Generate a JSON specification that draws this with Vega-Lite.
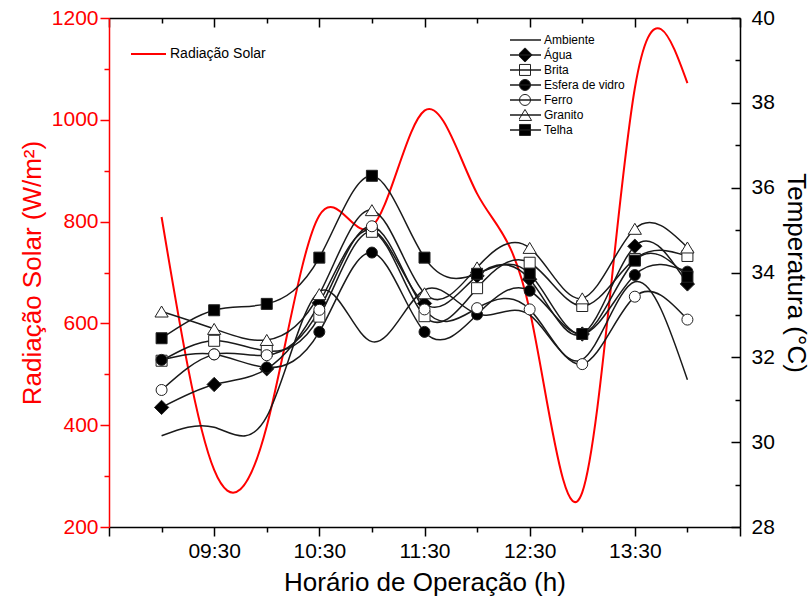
{
  "$schema": "https://vega.github.io/schema/vega-lite/v6.json",
  "width": 631,
  "height": 509,
  "autosize": {"type": "none"},
  "padding": {"left": 109, "top": 18, "right": 71, "bottom": 78},
  "background": "white",
  "config": {
    "font": "Liberation Sans",
    "view": {"stroke": null},
    "axis": {"grid": false, "labelFontSize": 21, "titleFontSize": 26, "titleFontWeight": "normal", "tickWidth": 1.5, "domainWidth": 1.5, "labelColor": "#000", "titleColor": "#000", "tickColor": "#000", "domainColor": "#000", "labelFont": "Liberation Sans", "titleFont": "Liberation Sans"},
    "legend": {"padding": 0, "labelFont": "Liberation Sans", "labelColor": "#000"}
  },
  "datasets": {
    "rad": [
      {"t": 9, "rad": 809}, {"t": 9.5, "rad": 312}, {"t": 10, "rad": 398}, {"t": 10.5, "rad": 812},
      {"t": 11, "rad": 790}, {"t": 11.5, "rad": 1018}, {"t": 12, "rad": 855}, {"t": 12.5, "rad": 626},
      {"t": 13, "rad": 268}, {"t": 13.5, "rad": 1062}, {"t": 14, "rad": 1072}
    ],
    "temp": [
      {"s": "Ambiente", "t": 9, "v": 30.15}, {"s": "Ambiente", "t": 9.5, "v": 30.35}, {"s": "Ambiente", "t": 10, "v": 30.6}, {"s": "Ambiente", "t": 10.5, "v": 33.55}, {"s": "Ambiente", "t": 11, "v": 32.37}, {"s": "Ambiente", "t": 11.5, "v": 33.59}, {"s": "Ambiente", "t": 12, "v": 33.02}, {"s": "Ambiente", "t": 12.5, "v": 33.0}, {"s": "Ambiente", "t": 13, "v": 31.95}, {"s": "Ambiente", "t": 13.5, "v": 33.78}, {"s": "Ambiente", "t": 14, "v": 31.47},
      {"s": "Água", "t": 9, "v": 30.82}, {"s": "Água", "t": 9.5, "v": 31.36}, {"s": "Água", "t": 10, "v": 31.73}, {"s": "Água", "t": 10.5, "v": 33.28}, {"s": "Água", "t": 11, "v": 35.0}, {"s": "Água", "t": 11.5, "v": 33.27}, {"s": "Água", "t": 12, "v": 33.92}, {"s": "Água", "t": 12.5, "v": 33.84}, {"s": "Água", "t": 13, "v": 32.55}, {"s": "Água", "t": 13.5, "v": 34.62}, {"s": "Água", "t": 14, "v": 33.73},
      {"s": "Brita", "t": 9, "v": 31.92}, {"s": "Brita", "t": 9.5, "v": 32.39}, {"s": "Brita", "t": 10, "v": 32.15}, {"s": "Brita", "t": 10.5, "v": 32.96}, {"s": "Brita", "t": 11, "v": 34.96}, {"s": "Brita", "t": 11.5, "v": 32.97}, {"s": "Brita", "t": 12, "v": 33.63}, {"s": "Brita", "t": 12.5, "v": 34.23}, {"s": "Brita", "t": 13, "v": 33.21}, {"s": "Brita", "t": 13.5, "v": 34.32}, {"s": "Brita", "t": 14, "v": 34.39},
      {"s": "Esfera de vidro", "t": 9, "v": 31.94}, {"s": "Esfera de vidro", "t": 9.5, "v": 32.07}, {"s": "Esfera de vidro", "t": 10, "v": 31.76}, {"s": "Esfera de vidro", "t": 10.5, "v": 32.6}, {"s": "Esfera de vidro", "t": 11, "v": 34.47}, {"s": "Esfera de vidro", "t": 11.5, "v": 32.6}, {"s": "Esfera de vidro", "t": 12, "v": 33.01}, {"s": "Esfera de vidro", "t": 12.5, "v": 33.57}, {"s": "Esfera de vidro", "t": 13, "v": 32.55}, {"s": "Esfera de vidro", "t": 13.5, "v": 33.94}, {"s": "Esfera de vidro", "t": 14, "v": 34.02},
      {"s": "Ferro", "t": 9, "v": 31.23}, {"s": "Ferro", "t": 9.5, "v": 32.07}, {"s": "Ferro", "t": 10, "v": 32.05}, {"s": "Ferro", "t": 10.5, "v": 33.12}, {"s": "Ferro", "t": 11, "v": 35.09}, {"s": "Ferro", "t": 11.5, "v": 33.13}, {"s": "Ferro", "t": 12, "v": 33.16}, {"s": "Ferro", "t": 12.5, "v": 33.13}, {"s": "Ferro", "t": 13, "v": 31.84}, {"s": "Ferro", "t": 13.5, "v": 33.43}, {"s": "Ferro", "t": 14, "v": 32.89},
      {"s": "Granito", "t": 9, "v": 33.08}, {"s": "Granito", "t": 9.5, "v": 32.67}, {"s": "Granito", "t": 10, "v": 32.41}, {"s": "Granito", "t": 10.5, "v": 33.49}, {"s": "Granito", "t": 11, "v": 35.47}, {"s": "Granito", "t": 11.5, "v": 33.51}, {"s": "Granito", "t": 12, "v": 34.12}, {"s": "Granito", "t": 12.5, "v": 34.58}, {"s": "Granito", "t": 13, "v": 33.39}, {"s": "Granito", "t": 13.5, "v": 35.03}, {"s": "Granito", "t": 14, "v": 34.59},
      {"s": "Telha", "t": 9, "v": 32.45}, {"s": "Telha", "t": 9.5, "v": 33.11}, {"s": "Telha", "t": 10, "v": 33.26}, {"s": "Telha", "t": 10.5, "v": 34.35}, {"s": "Telha", "t": 11, "v": 36.28}, {"s": "Telha", "t": 11.5, "v": 34.35}, {"s": "Telha", "t": 12, "v": 33.97}, {"s": "Telha", "t": 12.5, "v": 33.97}, {"s": "Telha", "t": 13, "v": 32.55}, {"s": "Telha", "t": 13.5, "v": 34.28}, {"s": "Telha", "t": 14, "v": 33.9}
    ]
  },
  "resolve": {
    "scale": {"y": "independent"},
    "axis": {"x": "independent", "y": "independent"},
    "legend": {"stroke": "independent"}
  },
  "layer": [
    {
      "data": {"name": "rad"},
      "mark": {"type": "line", "interpolate": "natural", "strokeWidth": 2},
      "encoding": {
        "x": {"field": "t", "type": "quantitative", "scale": {"domain": [8.5, 14.5], "nice": false, "zero": false},
          "axis": {"orient": "bottom", "values": [8.5, 9.5, 10.5, 11.5, 12.5, 13.5, 14.5], "tickSize": 9, "labelPadding": 4, "labelFlush": false,
            "labelExpr": "datum.value == 8.5 || datum.value == 14.5 ? '' : (datum.value < 10 ? '0' : '') + floor(datum.value) + ':30'",
            "title": "Horário de Operação (h)", "titlePadding": 8}},
        "y": {"field": "rad", "type": "quantitative", "scale": {"domain": [200, 1200], "nice": false, "zero": false},
          "axis": {"orient": "left", "values": [200, 400, 600, 800, 1000, 1200], "format": "d", "tickSize": 9, "labelPadding": 2,
            "tickColor": "#ff0000", "domainColor": "#ff0000", "labelColor": "#ff0000", "titleColor": "#ff0000",
            "title": "Radiação Solar (W/m²)", "titlePadding": 6}},
        "color": {"datum": "Radiação Solar", "type": "nominal", "scale": {"range": ["#ff0000"]},
          "legend": {"orient": "none", "legendX": 21, "legendY": 28, "direction": "vertical", "title": null, "symbolType": "stroke", "symbolSize": 1225, "symbolStrokeWidth": 2, "labelFontSize": 14, "clipHeight": 16, "labelOffset": 3}}
      }
    },
    {
      "data": {"name": "rad"},
      "mark": {"type": "line", "interpolate": "natural", "opacity": 0},
      "encoding": {
        "x": {"field": "t", "type": "quantitative", "scale": {"domain": [8.5, 14.5], "nice": false, "zero": false},
          "axis": {"orient": "top", "values": [8.5, 9.5, 10.5, 11.5, 12.5, 13.5, 14.5], "tickSize": -9, "labels": false, "title": null}},
        "y": {"field": "rad", "type": "quantitative", "scale": {"domain": [200, 1200], "nice": false, "zero": false},
          "axis": {"orient": "left", "values": [300, 500, 700, 900, 1100], "tickSize": 5, "labels": false, "domain": false, "tickColor": "#ff0000", "title": null}}
      }
    },
    {
      "data": {"name": "temp"},
      "mark": {"type": "line", "interpolate": "natural", "strokeWidth": 1.5},
      "encoding": {
        "x": {"field": "t", "type": "quantitative", "scale": {"domain": [8.5, 14.5], "nice": false, "zero": false},
          "axis": {"orient": "bottom", "values": [9, 10, 11, 12, 13, 14], "tickSize": 5, "labels": false, "domain": false, "title": null}},
        "y": {"field": "v", "type": "quantitative", "scale": {"domain": [28, 40], "nice": false, "zero": false},
          "axis": {"orient": "right", "values": [28, 30, 32, 34, 36, 38, 40], "tickSize": -9, "labelPadding": 20, "title": "Temperatura (°C)", "titlePadding": 8}},
        "stroke": {"field": "s", "type": "nominal",
          "scale": {"domain": ["Ambiente", "Água", "Brita", "Esfera de vidro", "Ferro", "Granito", "Telha"], "range": ["#1a1a1a", "#1a1a1a", "#1a1a1a", "#1a1a1a", "#1a1a1a", "#1a1a1a", "#1a1a1a"]},
          "legend": {"orient": "none", "legendX": 400, "legendY": 14.6, "direction": "vertical", "title": null, "symbolType": "stroke", "symbolSize": 961, "symbolStrokeWidth": 1.5, "clipHeight": 14.7, "rowPadding": 0, "labelFontSize": 12, "labelOffset": 2}}
      }
    },
    {
      "data": {"name": "temp"},
      "transform": [{"filter": "datum.s !== 'Ambiente'"}],
      "mark": {"type": "point", "filled": true, "size": 121, "stroke": "#222", "strokeWidth": 1, "opacity": 1},
      "encoding": {
        "x": {"field": "t", "type": "quantitative", "scale": {"domain": [8.5, 14.5], "nice": false, "zero": false},
          "axis": {"orient": "top", "values": [9, 10, 11, 12, 13, 14], "tickSize": -5, "labels": false, "domain": false, "title": null}},
        "y": {"field": "v", "type": "quantitative", "scale": {"domain": [28, 40], "nice": false, "zero": false},
          "axis": {"orient": "right", "values": [29, 31, 33, 35, 37, 39], "tickSize": -5, "labels": false, "domain": false, "title": null}},
        "shape": {"field": "s", "type": "nominal",
          "scale": {"domain": ["Ambiente", "Água", "Brita", "Esfera de vidro", "Ferro", "Granito", "Telha"],
            "range": ["M0,0", "M-1.3,0L0,-1.3L1.3,0L0,1.3Z", "M-1,-1H1V1H-1Z", "circle", "circle", "M0,-1L1.2,1L-1.2,1Z", "M-1,-1H1V1H-1Z"]},
          "legend": {"orient": "none", "legendX": 410, "legendY": 14.6, "direction": "vertical", "title": null, "symbolSize": 121, "clipHeight": 14.7, "rowPadding": 0, "labelExpr": "''", "labelOpacity": 0, "labelFontSize": 12, "symbolStrokeWidth": 1}},
        "fill": {"field": "s", "type": "nominal",
          "scale": {"domain": ["Ambiente", "Água", "Brita", "Esfera de vidro", "Ferro", "Granito", "Telha"],
            "range": ["#000000", "#000000", "#ffffff", "#000000", "#ffffff", "#ffffff", "#000000"]},
          "legend": {"orient": "none", "legendX": 410, "legendY": 14.6, "direction": "vertical", "title": null, "symbolSize": 121, "clipHeight": 14.7, "rowPadding": 0, "labelExpr": "''", "labelOpacity": 0, "labelFontSize": 12, "symbolStrokeWidth": 1}}
      }
    }
  ]
}
